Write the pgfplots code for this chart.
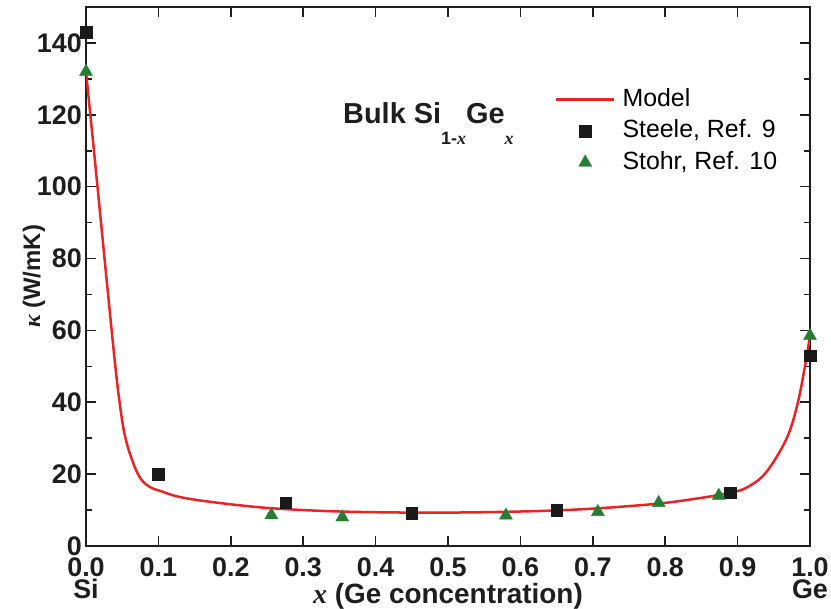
\documentclass[border=0pt]{standalone}
\usepackage{fontspec}
\setmainfont{Liberation Sans}
\newfontfamily\serif{Liberation Serif}
\usepackage{pgfplots}
\pgfplotsset{compat=1.18}

\definecolor{modelred}{RGB}{232,36,36}
\definecolor{stohrgreen}{RGB}{40,125,52}
\definecolor{steeleblack}{RGB}{25,25,25}
\definecolor{axisgray}{RGB}{30,30,30}

\newcommand{\ix}{{\serif\itshape x}}
\newcommand{\legfont}{\fontsize{25}{30}\selectfont}
\newcommand{\tickfont}{\fontsize{27}{32}\selectfont}
\newcommand{\labfont}{\fontsize{28}{33}\selectfont}

\pgfplotsset{
  lineleg/.style={legend image code/.code={\draw[##1] (0bp,0bp) -- (58bp,0bp);}},
  markleg/.style={legend image code/.code={\draw[##1] plot coordinates {(29bp,0bp)};}},
}

\begin{document}
\begin{tikzpicture}
\begin{axis}[
  scale only axis, width=724bp, height=539bp,
  xmin=0, xmax=1, ymin=0, ymax=150,
  axis line style={line width=1.8bp, axisgray},
  tick align=inside,
  tick style={line width=1.6bp, axisgray},
  major tick length=10bp, minor tick length=6bp,
  xtick={0,0.1,0.2,0.3,0.4,0.5,0.6,0.7,0.8,0.9,1},
  xticklabels={0.0,0.1,0.2,0.3,0.4,0.5,0.6,0.7,0.8,0.9,1.0},
  ytick={0,20,40,60,80,100,120,140},
  yticklabels={0,20,40,60,80,100,120,140},
  minor ytick={10,30,50,70,90,110,130},
  tick label style={font=\tickfont\bfseries, inner sep=0pt, text=axisgray},
  xticklabel style={anchor=base, yshift=-30bp},
  yticklabel style={anchor=east, xshift=-4bp},
  extra x ticks={0,1},
  extra x tick labels={Si,Ge},
  extra x tick style={major tick length=0bp, xticklabel style={yshift=-22bp}},
  xlabel={\ix\ (Ge concentration)},
  ylabel={{\serif\bfseries\itshape κ} (W/mK)},
  label style={text=axisgray, inner sep=0pt},
  xlabel style={font=\labfont\bfseries, at={(axis description cs:0.5,-0.1058)}, anchor=base},
  ylabel style={font=\fontsize{24}{29}\selectfont\bfseries, at={(axis description cs:-0.0635,0.5)}, anchor=base},
  legend style={draw=none, fill=none, inner sep=0pt, outer sep=0pt,
    at={(axis description cs:0.6478,0.8497)}, anchor=north west,
    font=\legfont, row sep=8.5bp, column sep=7bp,
    nodes={inner sep=0pt, text height=18bp, text depth=5bp}},
  legend cell align=left,
]
\addplot[modelred, line width=2.5bp, smooth, tension=0.6, lineleg]
coordinates {
 (0,132) (0.01,112) (0.02,91.5) (0.03,71) (0.04,51) (0.046,40.6)
 (0.053,31.4) (0.062,24.9) (0.0737,19.3) (0.0875,16.5) (0.106,15.1)
 (0.124,13.9) (0.15,12.9) (0.2,11.6) (0.25,10.6) (0.3,10) (0.35,9.6)
 (0.4,9.4) (0.45,9.3) (0.5,9.3) (0.55,9.4) (0.6,9.6) (0.65,9.9)
 (0.7,10.4) (0.75,11.1) (0.8,12) (0.85,13.4) (0.874,14.2) (0.894,15)
 (0.912,16.2) (0.935,19.5) (0.956,25.5) (0.972,32) (0.984,40.6)
 (0.993,50) (1.0,58.5)
};
\addlegendentry{Model}

\addplot[only marks, steeleblack, mark=square*, mark size=5.8bp,
  mark options={solid, line width=0.4bp}, markleg]
coordinates {
 (0,143) (0.1,20) (0.276,12) (0.45,9.2) (0.65,10) (0.89,14.8) (1.0,53)
};
\addlegendentry{Steele, Ref. 9}

\addplot[only marks, stohrgreen, mark=triangle*, mark size=7.5bp,
  mark options={solid, line width=0.4bp}, markleg]
coordinates {
 (0,132) (0.256,8.6) (0.354,8) (0.58,8.5) (0.707,9.5) (0.791,12)
 (0.874,14) (1.0,58.5)
};
\addlegendentry{Stohr, Ref. 10}

\node[anchor=base west, font=\fontsize{29}{34}\selectfont\bfseries, text=axisgray, inner sep=0pt]
  at (axis cs:0.355,117.7)
  {Bulk Si\raisebox{-21bp}{\fontsize{18}{21}\selectfont 1-\ix}Ge\raisebox{-21bp}{\fontsize{18}{21}\selectfont\ix}};
\end{axis}
\pgfresetboundingbox
\path ([shift={(-86bp,-63bp)}]current axis.south west)
  rectangle ([shift={(21bp,7bp)}]current axis.north east);
\end{tikzpicture}
\end{document}
